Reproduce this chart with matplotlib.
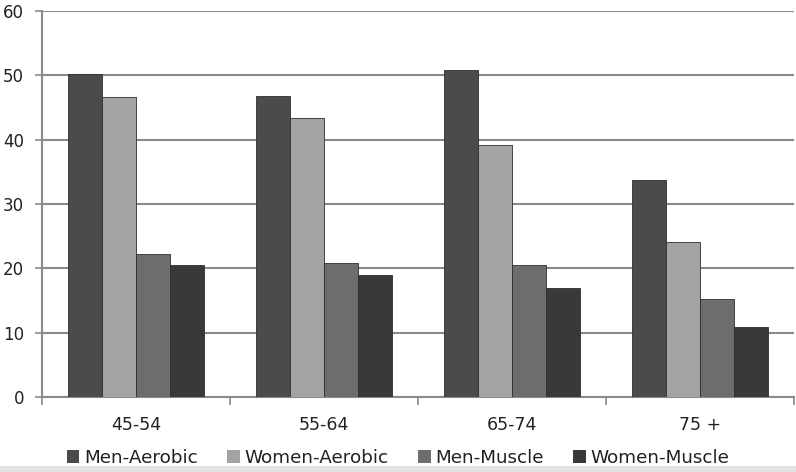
import matplotlib
matplotlib.use("Agg")
import matplotlib.pyplot as plt
from matplotlib.patches import Patch, Rectangle
import numpy as np

plt.rcParams["font.family"] = ["DejaVu Sans"]

# Dados
categorias = ["45-54", "55-64", "65-74", "75 +"]
series = ["Men-Aerobic", "Women-Aerobic", "Men-Muscle", "Women-Muscle"]
men_aerobic = [50.2, 46.8, 50.8, 33.8]
women_aerobic = [46.6, 43.3, 39.1, 24.1]
men_muscle = [22.2, 20.8, 20.5, 15.3]
women_muscle = [20.5, 18.9, 17.0, 10.9]
valores = [men_aerobic, women_aerobic, men_muscle, women_muscle]
cores = ["#4b4b4b", "#a3a3a3", "#6d6d6d", "#393939"]

fig = plt.figure(figsize=(7.96, 4.72), dpi=100)
ax = fig.add_axes([42 / 796, 75 / 472, 752 / 796, 386 / 472])

x = np.arange(len(categorias))
largura = 1 / 5.5
for i, (vals, cor) in enumerate(zip(valores, cores)):
    ax.bar(x + (i - 1.5) * largura, vals, width=largura, color=cor,
           edgecolor="#2e2e2e", linewidth=0.6, zorder=3)

ax.set_ylim(0, 60)
ax.set_xlim(-0.5, 3.5)
ax.set_yticks(range(0, 61, 10))
ax.yaxis.grid(True, color="#8a8a8a", linewidth=1.5, zorder=0)

ax.set_xticks(np.arange(-0.5, 4.0, 1.0))
ax.set_xticklabels([])
ax.set_xticks(x, minor=True)
ax.set_xticklabels(categorias, minor=True)
ax.tick_params(axis="x", which="major", length=6, color="#8a8a8a", width=1.2, direction="out")
ax.tick_params(axis="x", which="minor", length=0, pad=14, labelsize=12.5, labelcolor="#222222")
ax.tick_params(axis="y", length=5, color="#8a8a8a", width=1.2, pad=8, labelsize=12, labelcolor="#222222")

for lado in ["top", "right"]:
    ax.spines[lado].set_visible(False)
for lado in ["left", "bottom"]:
    ax.spines[lado].set_color("#8a8a8a")
    ax.spines[lado].set_linewidth(1.5)

handles = [Patch(facecolor=c, edgecolor="none") for c in cores]
fig.legend(handles, series, loc="center", bbox_to_anchor=(0.5, 14 / 472), ncol=4,
           frameon=False, fontsize=13.2, handlelength=0.7, handleheight=0.7,
           handletextpad=0.25, columnspacing=1.6, labelcolor="#222222")

# faixa cinza no rodapé
fig.patches.append(Rectangle((0, 0), 1, 6 / 472, transform=fig.transFigure,
                             facecolor="#e2e2e2", edgecolor="none"))

fig.savefig("out.png", dpi=100)
